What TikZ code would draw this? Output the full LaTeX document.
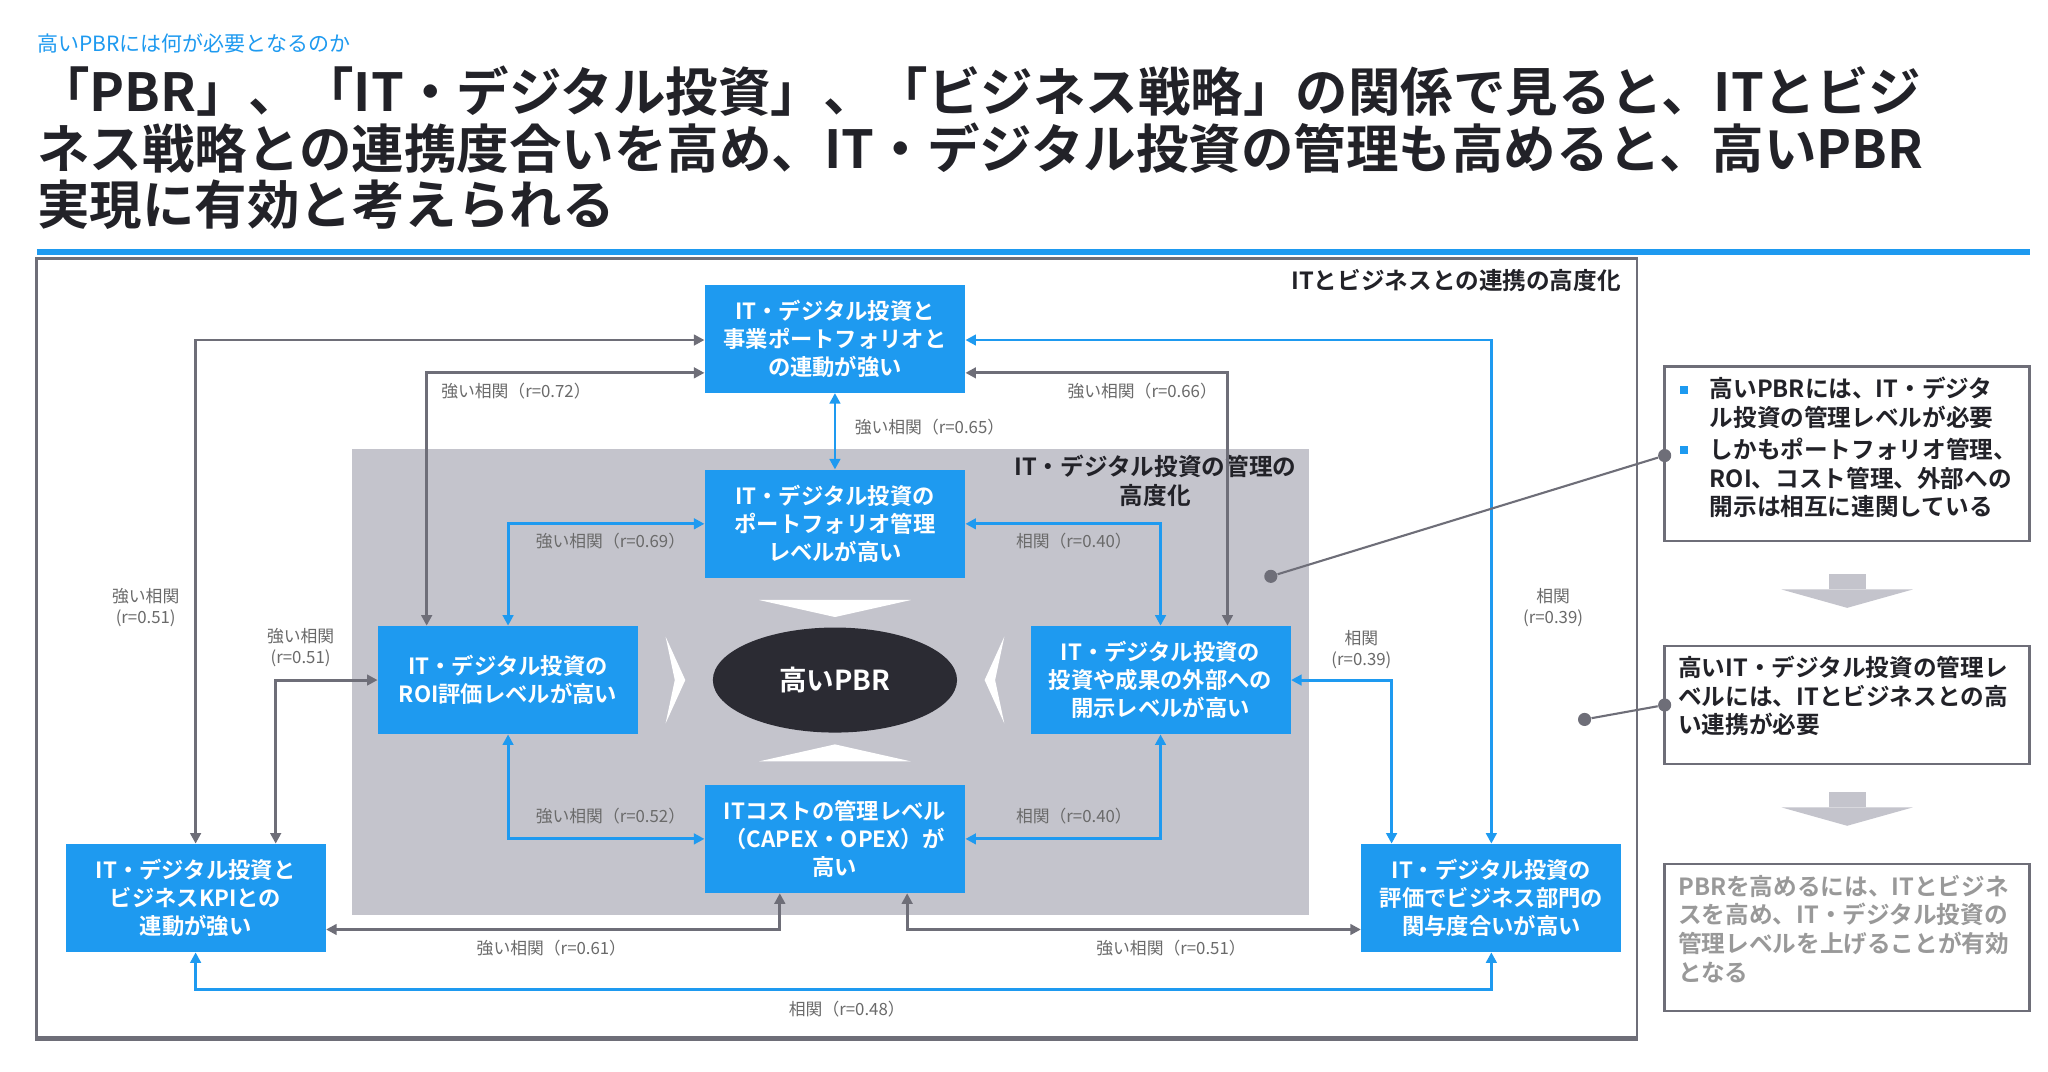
\documentclass[tikz,border=0pt]{standalone}
\usepackage{fontspec}
\setmainfont{Noto Sans CJK JP}
\newfontfamily\jpb{Noto Sans CJK JP Bold}
\usetikzlibrary{arrows.meta,shapes.geometric}
\definecolor{bl}{HTML}{1E9AF0}
\definecolor{gl}{HTML}{6E6E78}
\definecolor{lab}{HTML}{6A6A6A}
\definecolor{area}{HTML}{C4C4CC}
\definecolor{ell}{HTML}{2B2B33}
\definecolor{dk}{HTML}{222228}
\begin{document}
\begin{tikzpicture}[x=0.5pt,y=-0.5pt,
  box/.style={fill=bl,minimum width=99pt,minimum height=41pt,inner sep=0,text=white,align=center,font=\jpb\fontsize{8.5}{10.6}\selectfont},
  lbl/.style={text=lab,font=\fontsize{6.4}{8}\selectfont,align=center,inner sep=1pt},
  ba/.style={bl,line width=1.1pt,{Triangle[length=4pt,width=4pt]}-{Triangle[length=4pt,width=4pt]}},
  ga/.style={gl,line width=1.1pt,{Triangle[length=4pt,width=4pt]}-{Triangle[length=4pt,width=4pt]}},
  rbox/.style={draw=gl,line width=1pt,fill=white},
  rtxt/.style={anchor=north west,align=left,inner sep=0,font=\jpb\fontsize{9}{11}\selectfont},
  chev/.style={fill=white,draw=none},
  dot/.style={circle,fill=gl,inner sep=0,minimum size=5pt}]
\useasboundingbox (0,0) rectangle (1560,816);
\fill[white] (0,0) rectangle (1560,816);
% header
\node[anchor=west,text=bl,font=\fontsize{8}{10}\selectfont,inner sep=0] (sub) at (28,33) {高いPBRには何が必要となるのか};
\node[anchor=north west,align=left,inner sep=0,font=\jpb\fontsize{20}{21.5}\selectfont,text=dk] (title) at (28,50)
 {「PBR」、「IT・デジタル投資」、「ビジネス戦略」の関係で見ると、ITとビジ\\ネス戦略との連携度合いを高め、IT・デジタル投資の管理も高めると、高いPBR\\実現に有効と考えられる};
\draw[bl,line width=2pt] (28,192) -- (1546,192);
% frame
\draw[gl,line width=1pt] (28,197) rectangle (1247,792);
\draw[gl,line width=2pt] (28,791) -- (1247,791);
\node[anchor=east,font=\jpb\fontsize{9}{11}\selectfont,text=dk,inner sep=0] (t1) at (1235,214) {ITとビジネスとの連携の高度化};
\fill[area] (268,342) rectangle (997,697);
\node[align=center,font=\jpb\fontsize{9}{11}\selectfont,text=dk,inner sep=0] (t2) at (880,366) {IT・デジタル投資の管理の\\高度化};
% chevrons
\fill[chev] (578,457) -- (694,457) -- (636,470) -- cycle;
\fill[chev] (578,580) -- (694,580) -- (636,567) -- cycle;
\fill[chev] (507,485) -- (522,518) -- (507,551) -- (514,518) -- cycle;
\fill[chev] (765,485) -- (750,518) -- (765,551) -- (758,518) -- cycle;
% boxes
\node[box] (top) at (636,258) {IT・デジタル投資と\\事業ポートフォリオと\\の連動が強い};
\node[box] (port) at (636,399) {IT・デジタル投資の\\ポートフォリオ管理\\レベルが高い};
\node[box] (roi) at (387,518) {IT・デジタル投資の\\ROI評価レベルが高い};
\node[box] (disc) at (884,518) {IT・デジタル投資の\\投資や成果の外部への\\開示レベルが高い};
\node[box] (cost) at (636,639) {ITコストの管理レベル\\（CAPEX・OPEX）が\\高い};
\node[box] (kpi) at (149,684) {IT・デジタル投資と\\ビジネスKPIとの\\連動が強い};
\node[box] (eval) at (1136,684) {IT・デジタル投資の\\評価でビジネス部門の\\関与度合いが高い};
\node[ellipse,fill=ell,minimum width=93pt,minimum height=40pt,text=white,font=\jpb\fontsize{10.5}{12}\selectfont] (pbr) at (636,518) {高いPBR};
% connectors
\draw[ga] (roi.north -| 325,0) |- (top.west |- 0,284);
\node[lbl] (l1) at (393,298) {強い相関（r=0.72）};
\draw[ga] (kpi.north) |- (top.west |- 0,259);
\node[lbl] (l2) at (111,463) {強い相関\\(r=0.51)};
\draw[ba] (top.south) -- (port.north);
\node[lbl] (l3) at (708,325) {強い相関（r=0.65）};
\draw[ba] (port.west) -| (roi.north);
\node[lbl] (l4) at (465,412) {強い相関（r=0.69）};
\draw[ba] (port.east) -| (disc.north);
\node[lbl] (l5) at (818,412) {相関（r=0.40）};
\draw[ga] (top.east |- 0,284) -| (disc.north -| 935,0);
\node[lbl] (l6) at (870,298) {強い相関（r=0.66）};
\draw[ba] (top.east |- 0,259) -| (eval.north);
\node[lbl] (l7) at (1183,463) {相関\\(r=0.39)};
\draw[ba] (disc.east) -| (eval.north -| 1060,0);
\node[lbl] (l8) at (1037,495) {相関\\(r=0.39)};
\draw[ga] (roi.west) -| (kpi.north -| 210,0);
\node[lbl] (l9) at (229,493) {強い相関\\(r=0.51)};
\draw[ba] (roi.south) |- (cost.west);
\node[lbl] (l10) at (465,622) {強い相関（r=0.52）};
\draw[ba] (disc.south) |- (cost.east);
\node[lbl] (l11) at (818,622) {相関（r=0.40）};
\draw[ga] (cost.south -| 594,0) |- (kpi.east |- 0,708);
\node[lbl] (l12) at (420,722) {強い相関（r=0.61）};
\draw[ga] (cost.south -| 691,0) |- (eval.west |- 0,708);
\node[lbl] (l13) at (892,722) {強い相関（r=0.51）};
\draw[ba] (kpi.south) -- (149,754) -- (1136,754) -- (eval.south);
\node[lbl] (l14) at (645,769) {相関（r=0.48）};
% right panel
\draw[rbox] (1268,279) rectangle (1546,412);
\fill[bl] (1280,294) rectangle (1286,300);
\fill[bl] (1280,340) rectangle (1286,346);
\node[rtxt,text=dk] (r1) at (1302,287) {高いPBRには、IT・デジタ\\ル投資の管理レベルが必要};
\node[rtxt,text=dk] (r2) at (1302,333) {しかもポートフォリオ管理、\\ROI、コスト管理、外部への\\開示は相互に連関している};
\fill[area] (1393,437) rectangle (1421,449);
\fill[area] (1357,449) -- (1457,449) -- (1407,463) -- cycle;
\draw[rbox] (1268,492) rectangle (1546,582);
\node[rtxt,text=dk] (r3) at (1278,499) {高いIT・デジタル投資の管理レ\\ベルには、ITとビジネスとの高\\い連携が必要};
\fill[area] (1393,603) rectangle (1421,615);
\fill[area] (1357,615) -- (1457,615) -- (1407,629) -- cycle;
\draw[rbox] (1268,658) rectangle (1546,770);
\node[rtxt,text=gray!80] (r4) at (1278,666) {PBRを高めるには、ITとビジネ\\スを高め、IT・デジタル投資の\\管理レベルを上げることが有効\\となる};
\node[dot] (d1) at (968,439) {};
\node[dot] (d2) at (1268,347) {};
\draw[gl,line width=0.8pt] (d1) -- (d2);
\node[dot] (d3) at (1207,548) {};
\node[dot] (d4) at (1268,537) {};
\draw[gl,line width=0.8pt] (d3) -- (d4);
\end{tikzpicture}
\end{document}
